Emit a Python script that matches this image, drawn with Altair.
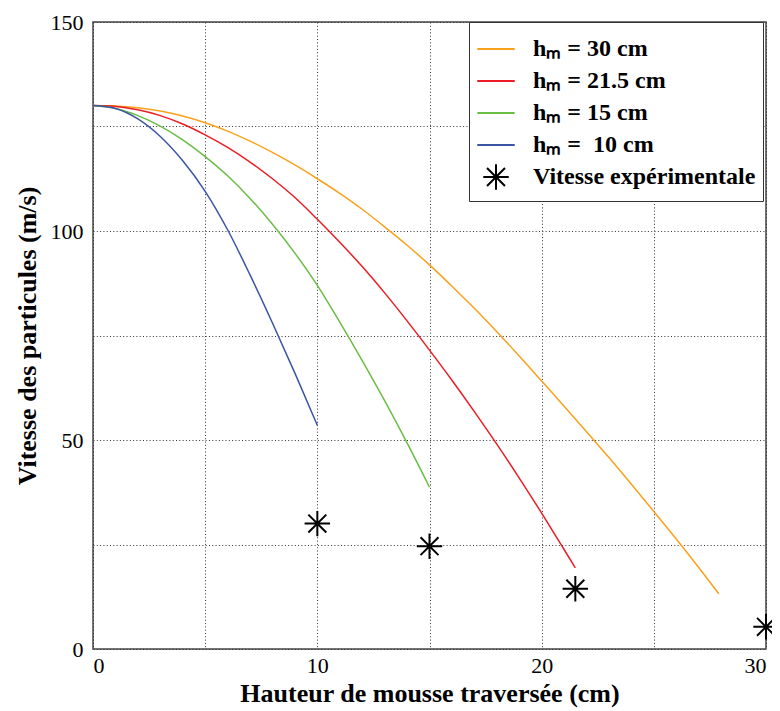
import altair as alt
import pandas as pd

FONT = "Liberation Serif"

series_names = ["hₘ = 30 cm", "hₘ = 21.5 cm", "hₘ = 15 cm", "hₘ =\u00a0 10 cm"]
exp_name = "Vitesse expérimentale"
colors = ["#f9a11b", "#ed1c24", "#6abd45", "#3a55a4", "#000000"]

# h_m = 30 cm
x_30 = [0, 1, 2, 3, 4, 5, 6, 7, 8, 9, 10, 11, 12, 13, 14, 15, 16, 17, 18, 19, 20,
        21, 22, 23, 24, 25, 26, 27, 27.9]
v_30 = [130, 129.9, 129.5, 128.7, 127.5, 125.9, 123.9, 121.5, 118.8, 115.8, 112.5,
        109, 105.2, 101, 96.6, 91.9, 86.8, 81.5, 75.9, 70.1, 64.1,
        58.1, 52, 45.8, 39.4, 32.9, 26.3, 19.5, 13.2]
# h_m = 21.5 cm
x_215 = [0, 1, 2, 3, 4, 5, 6, 7, 8, 9, 10, 11, 12, 13, 14, 15, 16, 17, 18, 19, 20,
         21, 21.5]
v_215 = [130, 129.8, 129, 127.6, 125.6, 123, 120, 116.5, 112.5, 108, 102.8,
         97.3, 91.5, 85.2, 78.5, 71.5, 64.3, 56.8, 49, 40.9, 32.5, 23.8, 19.4]
# h_m = 15 cm
x_15 = [0, 1, 2, 3, 4, 5, 6, 7, 8, 9, 10, 11, 12, 13, 14, 15]
v_15 = [130, 129.3, 127.6, 125.1, 121.8, 117.8, 113.2, 107.8, 101.6, 94.7, 87,
        78.2, 69, 59.4, 49.3, 38.7]
# h_m = 10 cm
x_10 = [0, 1, 2, 3, 4, 5, 6, 7, 8, 9, 10]
v_10 = [130, 129.3, 126.8, 122.6, 116.8, 109.5, 100.3, 89.5, 78, 66, 53.5]

# experimental velocities
exp_x = [10, 15, 21.5, 30]
exp_v = [30, 24.6, 14.4, 5.3]

x_ticks = [0, 5, 10, 15, 20, 25, 30]
y_ticks = [0, 25, 50, 75, 100, 125, 150]

frames = []
for name, xs, vs in zip(series_names, [x_30, x_215, x_15, x_10], [v_30, v_215, v_15, v_10]):
    frames.append(pd.DataFrame({"x": xs, "v": vs, "serie": name}))
lines_df = pd.concat(frames, ignore_index=True)
exp_df = pd.DataFrame({"x": exp_x, "v": exp_v, "serie": exp_name})

star = ("M0,-0.68L0,0.68M-0.68,0L0.68,0"
        "M-0.48,-0.48L0.48,0.48M-0.48,0.48L0.48,-0.48")
all_names = series_names + [exp_name]

x_enc = alt.X("x:Q", scale=alt.Scale(domain=[0, 30], nice=False),
              axis=alt.Axis(values=x_ticks, title="Hauteur de mousse traversée (cm)",
                            labelExpr="datum.value % 10 == 0 ? datum.label : ''"))
y_enc = alt.Y("v:Q", scale=alt.Scale(domain=[0, 150], nice=False),
              axis=alt.Axis(values=y_ticks, title="Vitesse des particules (m/s)",
                            labelExpr="datum.value % 50 == 0 ? datum.label : ''"))

legend = alt.Legend(
    orient="none", legendX=376, legendY=0, title=None,
    symbolStrokeWidth=2,
    labelFont=FONT, labelFontSize=24, labelFontWeight="bold", labelColor="black",
    labelLimit=400, rowPadding=-1, labelOffset=17, padding=7,
    strokeColor="#333333", fillColor="white", cornerRadius=0,
)

color_scale = alt.Scale(domain=all_names, range=colors)

lines = alt.Chart(lines_df).mark_line(strokeWidth=1.5, interpolate="monotone").encode(
    x=x_enc, y=y_enc,
    color=alt.Color("serie:N", scale=color_scale, sort=all_names, legend=legend),
)

points = alt.Chart(exp_df).mark_point(filled=False, strokeWidth=2, opacity=1).encode(
    x="x:Q", y="v:Q",
    color=alt.Color("serie:N", scale=color_scale, sort=all_names, legend=legend),
    shape=alt.Shape("serie:N", scale=alt.Scale(domain=all_names,
                                               range=["stroke"] * 4 + [star]),
                    sort=all_names, legend=legend),
    size=alt.Size("serie:N", scale=alt.Scale(domain=all_names,
                                             range=[1400] * 4 + [220]),
                  sort=all_names, legend=legend),
)

chart = alt.layer(lines, points).properties(
    width=673, height=627,
    autosize=alt.AutoSizeParams(type="none"),
    padding={"left": 85, "top": 14, "right": 6, "bottom": 60},
).configure_view(
    stroke="#444444", strokeWidth=1.5
).configure_axis(
    labelFont=FONT, labelFontSize=22, labelColor="black",
    titleFont=FONT, titleFontSize=26, titleFontWeight="bold", titleColor="black",
    grid=True, gridColor="#333333", gridDash=[1, 2.3], gridWidth=1,
    ticks=False, domain=False,
).configure_axisX(
    labelPadding=6, titlePadding=4,
).configure_axisY(
    labelPadding=10, titlePadding=10,
)

chart.save("out.html", embed_options={"renderer": "svg", "actions": False})
